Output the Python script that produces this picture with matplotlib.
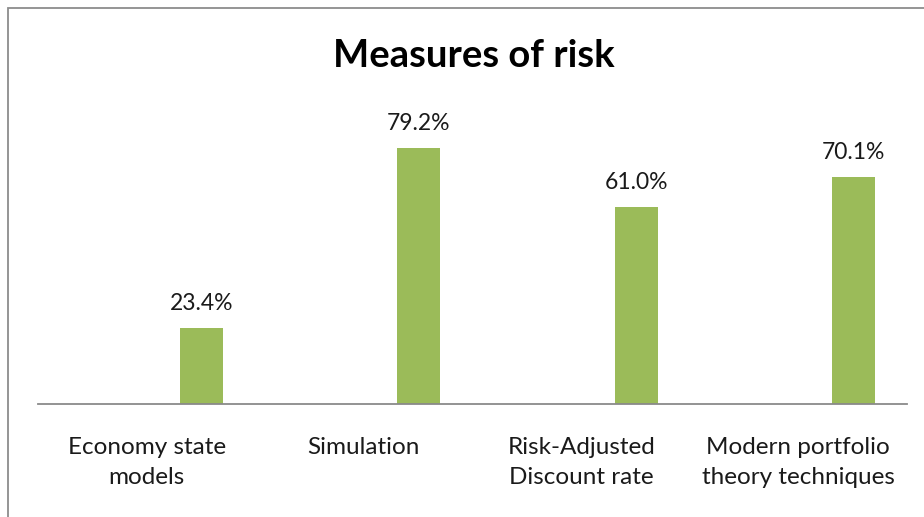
import matplotlib
matplotlib.use("Agg")
import matplotlib.pyplot as plt
from matplotlib.patches import Rectangle

categories = ["Economy state\nmodels", "Simulation", "Risk-Adjusted\nDiscount rate", "Modern portfolio\ntheory techniques"]
values = [23.4, 79.2, 61.0, 70.1]
labels = ["23.4%", "79.2%", "61.0%", "70.1%"]

W, H = 924, 517
fig = plt.figure(figsize=(W/100, H/100), dpi=100)
plt.rcParams['font.family'] = ['Lato', 'DejaVu Sans']

# outer border (runs off right/bottom)
fig.patches.append(Rectangle((8/W, -0.1), 2.0, (H-8)/H + 0.1, transform=fig.transFigure,
                             fill=False, edgecolor='#8c8c8c', linewidth=1.3))

ax_left, ax_right, ax_bottom, ax_top = 38, 907, 404, 113
ax = fig.add_axes([ax_left/W, 1-ax_bottom/H, (ax_right-ax_left)/W, (ax_bottom-ax_top)/H])
x = list(range(len(categories)))
xb = [i + 0.253 for i in x]
ax.bar(xb, values, width=0.198, color='#9bbb59')
for xi, v, l in zip(xb, values, labels):
    ax.annotate(l, (xi, v), xytext=(0, 10), textcoords='offset points', ha='center', va='bottom', fontsize=16.5, color='#1a1a1a')
ax.set_xlim(-0.5, 3.5)
ax.set_ylim(0, 90)
ax.set_xticks(x)
ax.set_xticklabels(categories, fontsize=17.5, color='#1a1a1a', linespacing=1.5)
ax.tick_params(axis='x', length=0, pad=24)
ax.set_yticks([])
for s in ['left', 'right', 'top']:
    ax.spines[s].set_visible(False)
ax.spines['bottom'].set_color('#8a8a8a')
ax.spines['bottom'].set_linewidth(1.3)

fig.text(474/W, 1-56/H, "Measures of risk", ha='center', va='center', fontsize=27.5, fontweight='bold', color='black')

fig.savefig("out.png", dpi=100)
